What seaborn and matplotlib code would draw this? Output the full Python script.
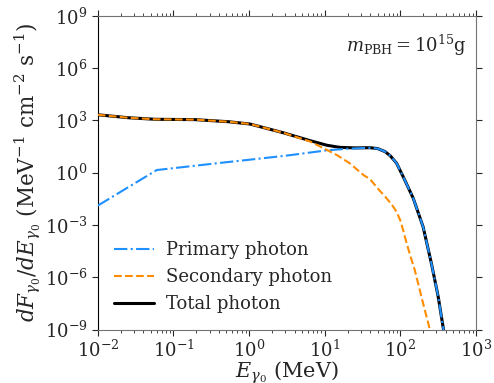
import numpy as np
import pandas as pd
import matplotlib
matplotlib.use('Agg')
import matplotlib.pyplot as plt
import seaborn as sns
from matplotlib.ticker import LogLocator, NullLocator

# values (log10 of energy in MeV, log10 of flux)
primary_logE = [-2.0, -1.6, -1.22, -0.34, 0.0, 0.5, 1.03, 1.3, 1.5, 1.6, 1.7, 1.8, 1.87,
                1.95, 2.05, 2.17, 2.30, 2.41, 2.50, 2.57, 2.60]
primary_logF = [-1.89, -0.84, 0.15, 0.58, 0.74, 0.98, 1.28, 1.37, 1.41, 1.42, 1.38, 1.2, 0.95,
                0.54, -0.35, -1.47, -3.1, -5.2, -7.11, -9.0, -9.6]

secondary_logE = [-2.0, -1.6, -1.24, -0.71, -0.27, 0.01, 0.45, 0.81, 1.03, 1.16, 1.33, 1.51,
                  1.6, 1.71, 1.8, 1.89, 1.95, 2.0, 2.04, 2.08, 2.13, 2.19, 2.30, 2.39, 2.42]
secondary_logF = [3.32, 3.15, 3.06, 3.04, 2.92, 2.79, 2.29, 1.78, 1.3, 1.01, 0.54, -0.13,
                  -0.38, -0.95, -1.38, -1.85, -2.25, -2.75, -3.35, -4.0, -4.75, -5.58,
                  -7.49, -9.0, -9.6]

total_logE = [-2.0, -1.6, -1.24, -0.71, -0.27, 0.01, 0.45, 0.81, 1.03, 1.2, 1.4, 1.6, 1.7,
              1.8, 1.87, 1.95, 2.05, 2.17, 2.30, 2.41, 2.50, 2.57, 2.60]
total_logF = [3.32, 3.15, 3.06, 3.04, 2.92, 2.79, 2.29, 1.83, 1.57, 1.45, 1.42, 1.43, 1.38,
              1.2, 0.95, 0.54, -0.35, -1.47, -3.1, -5.2, -7.11, -9.0, -9.6]

labels = ['Primary photon', 'Secondary photon', 'Total photon']

sns.set_style('ticks')
plt.rcParams['font.family'] = 'DejaVu Serif'
plt.rcParams['mathtext.fontset'] = 'dejavuserif'

fig, ax = plt.subplots(figsize=(4.94, 3.83), dpi=100)
fig.subplots_adjust(left=0.198, right=0.9636, bottom=0.1394, top=0.959)

def frame(logE, logF):
    return pd.DataFrame({'E': np.power(10.0, logE), 'F': np.power(10.0, logF)})

# total first so the dashed curves sit on top of it
sns.lineplot(data=frame(total_logE, total_logF), x='E', y='F', ax=ax, color='black',
             lw=2.2, label=labels[2], zorder=2, estimator=None, sort=False)
sns.lineplot(data=frame(primary_logE, primary_logF), x='E', y='F', ax=ax, color='#1E90FF',
             lw=1.5, ls='-.', label=labels[0], zorder=3, estimator=None, sort=False)
sns.lineplot(data=frame(secondary_logE, secondary_logF), x='E', y='F', ax=ax, color='#FF8C00',
             lw=1.5, ls='--', label=labels[1], zorder=3, estimator=None, sort=False)

ax.set_xscale('log')
ax.set_yscale('log')
ax.set_xlim(1e-2, 1e3)
ax.set_ylim(1e-9, 1e9)

ax.yaxis.set_major_locator(LogLocator(base=1000.0, numticks=10))
ax.yaxis.set_minor_locator(NullLocator())
ax.xaxis.set_major_locator(LogLocator(base=10.0, numticks=10))
ax.xaxis.set_minor_locator(LogLocator(base=10.0, subs=np.arange(2, 10), numticks=20))
ax.tick_params(which='both', top=True, right=True, direction='out', labelsize=13)
ax.tick_params(which='major', length=4)
ax.tick_params(which='minor', length=2)

for side in ['top', 'right', 'bottom']:
    ax.spines[side].set_color('0.45')
ax.spines['left'].set_color('black')

ax.set_xlabel(r'$E_{\gamma_0}$ (MeV)', fontsize=15, labelpad=-1.5)
ax.set_ylabel(r'$dF_{\gamma_0}/dE_{\gamma_0}$ (MeV$^{-1}$ cm$^{-2}$ s$^{-1}$)', fontsize=15.5, labelpad=1)

ax.text(0.975, 0.905, r'$m_{\rm PBH} = 10^{15}$g', transform=ax.transAxes,
        ha='right', va='center', fontsize=13)

handles, labs = ax.get_legend_handles_labels()
order = [labs.index(l) for l in labels]
ax.legend([handles[i] for i in order], [labs[i] for i in order], loc='lower left',
          frameon=False, fontsize=13, handlelength=2.2, handletextpad=0.7,
          bbox_to_anchor=(0.0, 0.0))

fig.savefig('out.png', dpi=100)
